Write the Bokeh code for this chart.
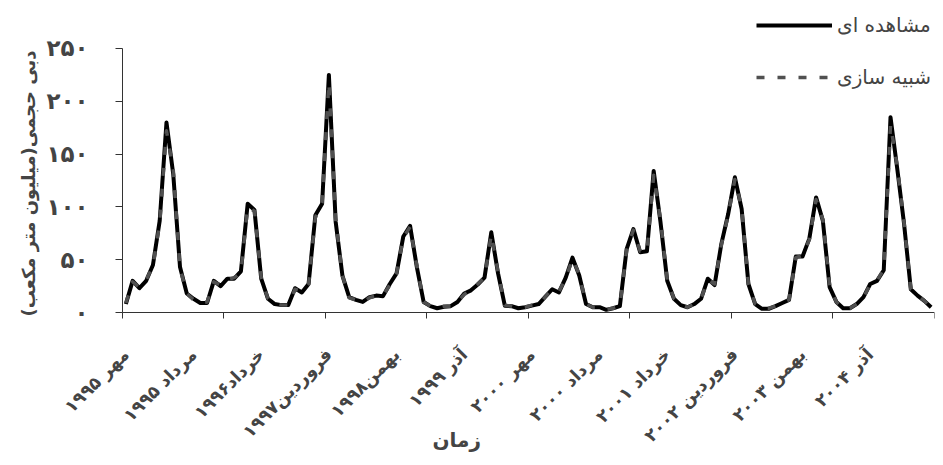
import math
from bokeh.plotting import figure
from bokeh.models import (LinearAxis, FixedTicker, Legend, LegendItem, Range1d, Title, Label)
from bokeh.embed import file_html
from bokeh.resources import INLINE

# ---------------- data ----------------
months = list(range(120))

observed = [8, 30, 23, 30, 45, 87, 180, 131, 43, 18,
            13, 9, 9, 30, 25, 32, 32, 39, 103, 97,
            32, 13, 8, 7, 7, 23, 19, 27, 92, 103,
            225, 86, 35, 14.5, 12, 10, 14.5, 16, 15.5, 27,
            37, 72, 82, 43, 10, 6, 4, 5.5, 6, 10,
            18, 21, 26.5, 33, 76, 37, 6.5, 6, 4, 5,
            6.5, 8, 15, 22, 19, 33, 52, 35, 8, 5,
            5, 2.5, 4, 6, 60, 79, 57, 58, 134, 86,
            30, 13, 7, 5, 8, 13, 32, 26, 65, 93,
            128, 98, 27, 8, 3.5, 3.5, 6, 9, 12, 53,
            53, 70, 109, 87, 24, 10, 4, 4, 8, 14.5,
            27, 30, 40, 185, 136, 84, 22, 16, 11, 5]

simulated = [9, 29, 24, 31, 44, 85, 172, 135, 42, 18,
             12, 9, 10, 29, 26, 31, 33, 38, 100, 96,
             33, 13, 8, 7, 7, 22, 20, 27, 90, 104,
             218, 88, 35, 14, 12, 10, 14, 16, 16, 26,
             37, 71, 81, 44, 10, 6, 4, 6, 6, 10,
             17, 21, 27, 33, 74, 38, 7, 6, 4, 5,
             7, 8, 15, 22, 20, 32, 51, 36, 8, 5,
             5, 3, 4, 6, 59, 78, 58, 57, 130, 88,
             31, 13, 7, 5, 8, 13, 31, 27, 64, 92,
             126, 99, 27, 8, 4, 4, 6, 9, 12, 52,
             54, 69, 107, 88, 25, 10, 4, 4, 8, 14,
             27, 30, 41, 178, 138, 85, 22, 16, 11, 5]

x_label_positions = [0, 10, 20, 30, 40, 50, 60, 70, 80, 90, 100, 110]
x_labels = ["مهر ۱۹۹۵", "مرداد ۱۹۹۵", "خرداد۱۹۹۶", "فروردین۱۹۹۷",
            "بهمن۱۹۹۸", "آذر ۱۹۹۹", "مهر ۲۰۰۰", "مرداد ۲۰۰۰",
            "خرداد ۲۰۰۱", "فروردین ۲۰۰۲", "بهمن ۲۰۰۳", "آذر ۲۰۰۴"]
x_tick_positions = [k * 15 - 0.5 for k in range(9)]

y_ticks = [0, 50, 100, 150, 200, 250]
y_tick_labels = ["۰", "۵۰", "۱۰۰", "۱۵۰", "۲۰۰", "۲۵۰"]

series_names = ["مشاهده ای", "شبیه سازی"]
y_title = "دبی حجمی(میلیون متر مکعب)"
x_title = "زمان"

FONT = "DejaVu Sans"

# ---------------- figure ----------------
# The frame covers nearly the whole canvas; axes are pinned with fixed_location
# and bounded so that tick labels and the axis title are not clipped.
p = figure(width=935, height=457, output_backend="svg", toolbar_location=None,
           x_range=Range1d(-11.879, 119.5), y_range=Range1d(-137.3, 295.45),
           min_border_left=45, min_border_right=1, min_border_top=0,
           min_border_bottom=0)
p.outline_line_color = None
p.xgrid.visible = False
p.ygrid.visible = False
p.background_fill_color = "white"

r1 = p.line(months, observed, line_color="black", line_width=4, line_join="round")
r2 = p.line(months, simulated, line_color="#505050", line_width=3.5,
            line_dash="8 13", line_join="round")

# y axis, drawn at the left edge of the category axis
ya = p.yaxis[0]
ya.fixed_location = -0.5
ya.ticker = FixedTicker(ticks=y_ticks)
ya.major_label_overrides = dict(zip(y_ticks, y_tick_labels))
ya.bounds = (0, 250)
ya.major_tick_out = 7
ya.major_tick_in = 0
ya.minor_tick_line_color = None
ya.major_label_standoff = 27
ya.major_label_text_font = FONT
ya.major_label_text_font_size = "23px"
ya.major_label_text_font_style = "bold"
ya.axis_line_color = "#333333"
ya.major_tick_line_color = "#333333"

p.add_layout(Title(text=y_title, align="right", offset=50, standoff=14,
                   text_font=FONT, text_font_size="18px", text_font_style="bold"),
             "left")

# x axis (tick marks only), drawn at value 0
xa = p.xaxis[0]
xa.fixed_location = 0
xa.bounds = (-0.5, 119.5)
xa.ticker = FixedTicker(ticks=x_tick_positions)
xa.major_label_overrides = {t: "" for t in x_tick_positions}
xa.major_label_text_font_size = "0px"
xa.major_tick_out = 6
xa.major_tick_in = 0
xa.minor_tick_line_color = None
xa.major_label_standoff = 0
xa.axis_line_color = "#333333"
xa.major_tick_line_color = "#333333"

# x axis (labels only), also anchored at value 0
xl = LinearAxis(fixed_location=0,
                ticker=FixedTicker(ticks=x_label_positions),
                major_label_overrides=dict(zip(x_label_positions, x_labels)),
                major_label_orientation=math.pi / 4,
                axis_line_color=None, major_tick_line_color=None,
                minor_tick_line_color=None, major_tick_out=0, major_tick_in=0,
                major_label_standoff=39,
                major_label_text_font=FONT, major_label_text_font_size="17.5px",
                major_label_text_font_style="bold")
p.add_layout(xl, "below")

p.add_layout(Label(x=48.9, y=-121, x_units="data", y_units="data", text=x_title,
                   text_font=FONT, text_font_size="20px", text_font_style="bold",
                   text_align="center", text_baseline="middle"))

legend = Legend(items=[LegendItem(label=series_names[0], renderers=[r1]),
                       LegendItem(label=series_names[1], renderers=[r2])],
                location=(711, 368), glyph_width=76, glyph_height=24,
                label_height=24, spacing=28, padding=0, margin=0,
                border_line_color=None, background_fill_alpha=0,
                label_text_font=FONT, label_text_font_size="20px",
                label_standoff=5)
p.add_layout(legend)

open("out.html", "w").write(file_html(p, INLINE))
